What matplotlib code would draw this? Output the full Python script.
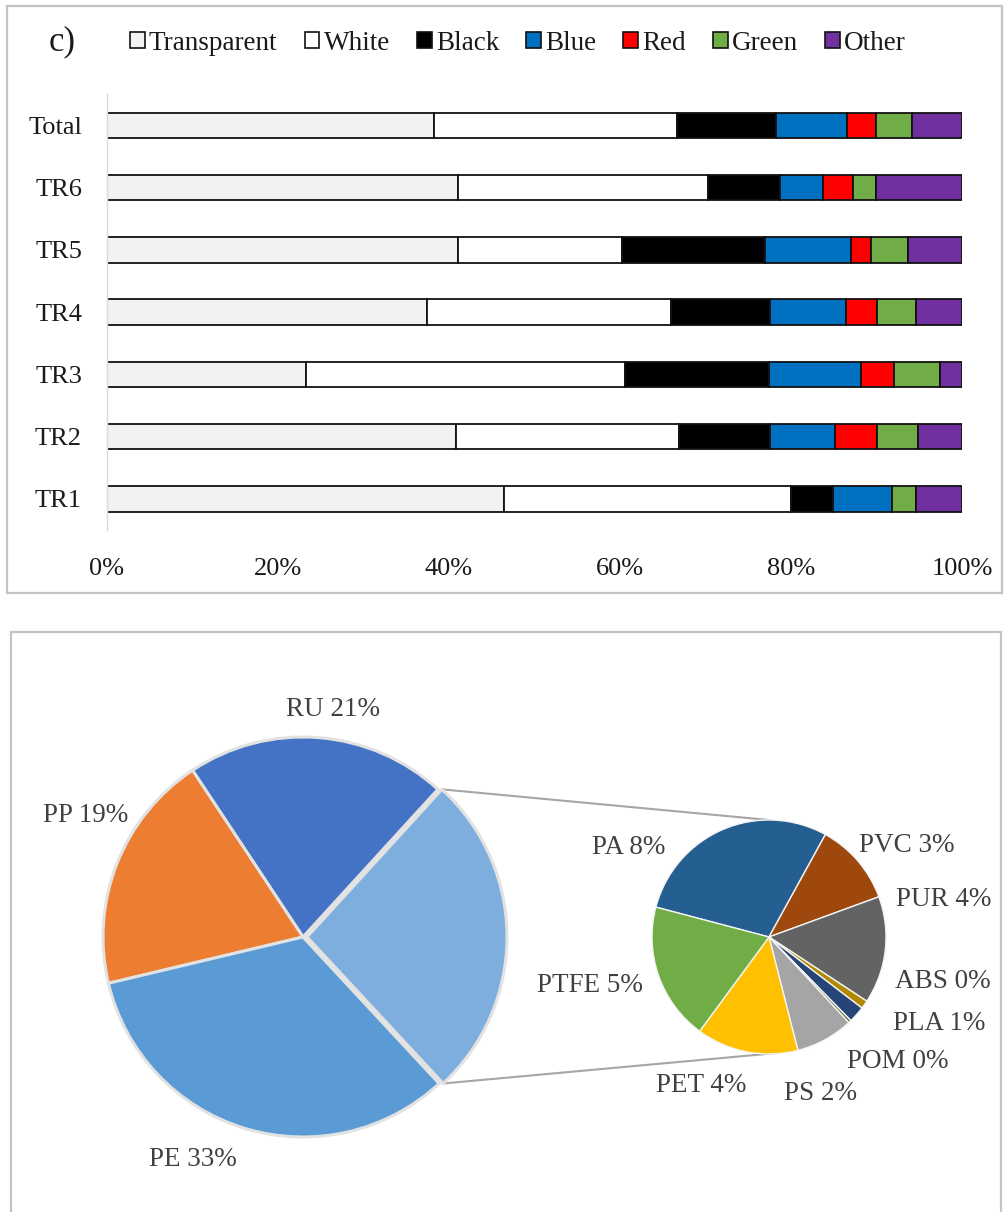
import matplotlib
matplotlib.use("Agg")
import matplotlib.pyplot as plt
from matplotlib.patches import Rectangle, Patch
import numpy as np

plt.rcParams['font.family'] = ['Liberation Serif', 'DejaVu Serif']

# colour share of particles per site (%)
sites = ["TR1", "TR2", "TR3", "TR4", "TR5", "TR6", "Total"]
transparent = [46.4, 40.8, 23.3, 37.4, 41.0, 41.1, 38.2]
white = [33.6, 26.1, 37.3, 28.6, 19.2, 29.2, 28.5]
black = [4.9, 10.7, 16.8, 11.6, 16.8, 8.4, 11.6]
blue = [6.9, 7.6, 10.8, 8.8, 10.0, 5.0, 8.3]
red = [0.0, 4.9, 3.9, 3.7, 2.4, 3.5, 3.3]
green = [2.8, 4.7, 5.3, 4.5, 4.3, 2.8, 4.3]
other = [5.4, 5.2, 2.6, 5.4, 6.3, 10.0, 5.8]

colour_names = ["Transparent", "White", "Black", "Blue", "Red", "Green", "Other"]
colour_fill = ["#F2F2F2", "#FFFFFF", "#000000", "#0070C0", "#FF0000", "#70AD47", "#7030A0"]

# polymer types (% of all particles)
main_names = ["RU", "PP", "PE"]
main_values = [21.1, 19.4, 33.2]
main_colors = ["#4472C4", "#ED7D31", "#5B9BD5"]
other_color = "#7EAEDD"

sub_names = ["PA", "PVC", "PUR", "ABS", "PLA", "POM", "PS", "PET", "PTFE"]
sub_values = [7.6, 3.0, 3.9, 0.3, 0.6, 0.1, 2.1, 3.7, 5.0]
sub_colors = ["#255E91", "#9E480E", "#636363", "#B08800", "#264478",
              "#43682B", "#A5A5A5", "#FFC000", "#70AD47"]

W, H = 1008, 1212
fig = plt.figure(figsize=(W / 100, H / 100), dpi=100)

# overlay in pixel units for panel frames and the pies
ov = fig.add_axes([0, 0, 1, 1])
ov.set_xlim(0, W)
ov.set_ylim(0, H)
ov.axis("off")

def py(y):
    return H - y

ov.add_patch(Rectangle((7, py(593)), 995, 587, fill=False, ec="#C4C4C4", lw=1.6))
ov.add_patch(Rectangle((11, py(1230)), 990, 598, fill=False, ec="#C4C4C4", lw=1.6))

# ---- stacked bars ----
ax = fig.add_axes([107 / W, 1 - 530 / H, (962 - 107) / W, (530 - 94.4) / H])
series = [transparent, white, black, blue, red, green, other]
ypos = np.arange(len(sites))
left = np.zeros(len(sites))
for vals, col in zip(series, colour_fill):
    ax.barh(ypos, vals, left=left, height=0.41, color=col,
            edgecolor="#111111", linewidth=1.3)
    left += np.array(vals)

ax.set_xlim(0, 100)
ax.set_ylim(-0.5, len(sites) - 0.5)
ax.set_yticks(ypos)
ax.set_yticklabels(sites)
ax.set_xticks([0, 20, 40, 60, 80, 100])
ax.set_xticklabels(["0%", "20%", "40%", "60%", "80%", "100%"])
ax.tick_params(axis="both", length=0, labelsize=19, colors="#1a1a1a")
ax.tick_params(axis="x", pad=20)
ax.tick_params(axis="y", pad=18)
for s in ["top", "right", "bottom"]:
    ax.spines[s].set_visible(False)
ax.spines["left"].set_color("#D9D9D9")
ax.spines["left"].set_linewidth(1.0)
ax.set_facecolor("none")

handles = [Patch(facecolor=c, edgecolor="#111111", linewidth=1.2) for c in colour_fill]
fig.legend(handles, colour_names, loc="center", ncol=7,
           bbox_to_anchor=(518 / W, 1 - 43 / H), frameon=False,
           fontsize=19.5, handlelength=0.55, handleheight=0.55,
           handletextpad=0.15, columnspacing=1.0, labelcolor="#1a1a1a")
fig.text(62 / W, 1 - 42 / H, "c)", fontsize=25, ha="center", va="center",
         color="#1a1a1a")

# ---- bar-of-pie ----
main_c = (303, py(937))
main_r = 200
sub_c = (769, py(937))
sub_r = 117

other_total = sum(sub_values)
wedges, _ = ov.pie([other_total] + main_values, colors=[other_color] + main_colors,
                   startangle=-47.1, counterclock=True, center=main_c,
                   radius=main_r, explode=[4, 0, 0, 0], frame=True,
                   wedgeprops=dict(edgecolor="#E2E2E2", linewidth=2.2))
sub_w, _ = ov.pie(sub_values, colors=sub_colors, startangle=165.2,
                  counterclock=False, center=sub_c, radius=sub_r, frame=True,
                  wedgeprops=dict(edgecolor="#F4F4F4", linewidth=1.0))
ov.set_xlim(0, W)
ov.set_ylim(0, H)
ov.axis("off")

# connector lines from the split wedge to the secondary pie
ow = wedges[0]
cx, cy = ow.center
t1, t2 = np.radians(ow.theta1), np.radians(ow.theta2)
top = (cx + ow.r * np.cos(t2), cy + ow.r * np.sin(t2))
bot = (cx + ow.r * np.cos(t1), cy + ow.r * np.sin(t1))
ov.plot([top[0], sub_c[0]], [top[1], sub_c[1] + sub_r], color="#A6A6A6", lw=1.5, zorder=0)
ov.plot([bot[0], sub_c[0] + 8], [bot[1], sub_c[1] - sub_r + 1], color="#A6A6A6", lw=1.5, zorder=0)

main_label_xy = [(333, 710), (86, 815), (193, 1159)]
sub_label_xy = [(629, 847), (907, 845), (944, 899), (943, 982), (939, 1023),
                (898, 1061), (820, 1094), (701, 1085), (590, 986)]

for name, v, (x, y) in zip(main_names, main_values, main_label_xy):
    ov.text(x, py(y), f"{name} {round(v)}%", ha="center", va="center",
            fontsize=19.5, color="#404040")
for name, v, (x, y) in zip(sub_names, sub_values, sub_label_xy):
    ov.text(x, py(y), f"{name} {round(v)}%", ha="center", va="center",
            fontsize=19.5, color="#404040")

fig.savefig("out.png", dpi=100)
